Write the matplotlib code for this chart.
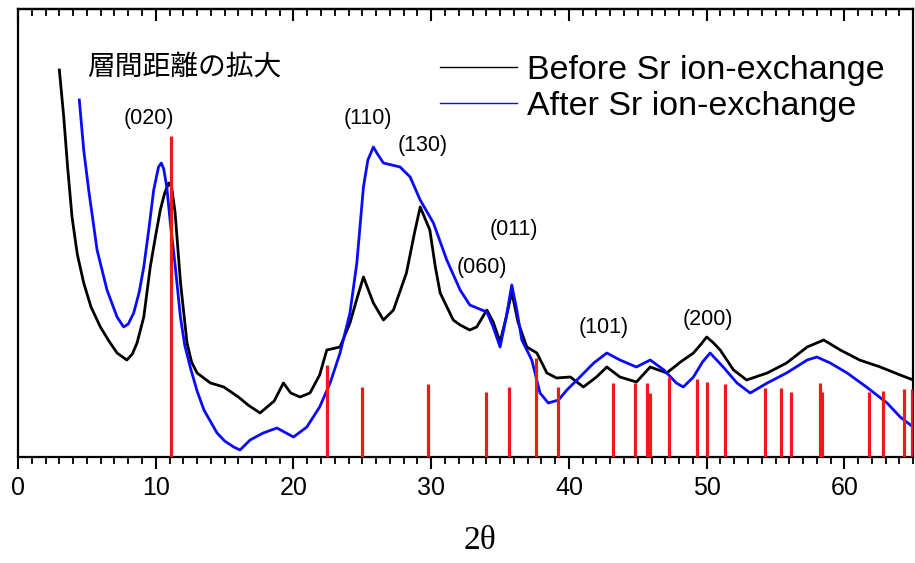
import numpy as np
import matplotlib
matplotlib.use('Agg')
import matplotlib.pyplot as plt
from matplotlib.ticker import MultipleLocator

plt.rcParams['font.family'] = ['Liberation Sans', 'Noto Sans CJK JP']

# XRD pattern, before Sr ion-exchange (black)
before_x = [3.0, 3.32, 3.6, 3.92, 4.3, 4.77, 5.3, 5.98, 6.6, 7.19, 7.9, 8.3, 8.64, 9.13,
            9.6, 10.0, 10.33, 10.65, 10.94, 11.15, 11.4, 11.8, 12.27, 12.6, 13.0, 13.97,
            14.94, 16.0, 16.7, 17.57, 18.6, 19.27, 19.8, 20.48, 21.2, 21.9, 22.42,
            23.38, 24.1, 24.6, 25.08, 25.8, 26.53, 27.26, 28.2, 28.8, 29.2, 29.9,
            30.3, 30.65, 31.6, 32.1, 32.8, 33.3, 34.04, 34.5, 35.0, 35.45, 35.85,
            36.3, 36.94, 37.67, 38.4, 39.1, 40.1, 41.05, 42.0, 42.75, 43.7, 44.9,
            45.9, 47.1, 48.1, 49.04, 49.6, 50.0, 50.5, 50.98, 51.95, 52.9, 54.4,
            55.8, 57.3, 58.5, 59.7, 61.1, 62.6, 64.05, 65.0]
before_y = [387, 340, 290, 240, 203, 174, 150, 130, 116, 104, 97, 103, 114, 140,
            190, 222, 247, 264, 274, 270, 245, 174, 114, 95, 84, 74,
            70, 60, 52, 44, 56, 74, 64, 60, 64, 82, 107,
            110, 134, 158, 180, 154, 137, 147, 184, 225, 250, 227,
            190, 164, 137, 132, 127, 130, 147, 135, 115, 140, 165,
            135, 110, 104, 84, 79, 80, 70, 80, 90, 80, 75,
            90, 84, 95, 104, 113, 120, 114, 107, 87, 77, 84,
            94, 110, 117, 107, 97, 90, 82, 77]

# XRD pattern, after Sr ion-exchange (blue)
after_x = [4.45, 4.77, 5.13, 5.74, 6.46, 7.19, 7.67, 8.0, 8.4, 8.8, 9.13, 9.5, 9.85,
           10.2, 10.4, 10.58, 10.8, 11.06, 11.42, 11.79, 12.1, 12.5, 13.0, 13.5, 14.45,
           15.0, 15.66, 16.12, 16.85, 17.8, 18.8, 20.0, 20.97, 21.9, 22.66, 23.38,
           24.1, 24.6, 25.08, 25.4, 25.8, 26.1, 26.53, 27.74, 28.47, 29.2, 30.16,
           31.13, 32.1, 32.8, 33.5, 34.04, 34.5, 35.0, 35.45, 35.85, 36.2, 36.58,
           37.3, 37.9, 38.5, 39.24, 39.85, 40.8, 41.8, 42.75, 43.7, 44.9, 45.9,
           46.9, 47.8, 48.3, 49.04, 49.7, 50.25, 51.2, 52.2, 53.16, 54.4, 55.8,
           57.3, 58.0, 58.97, 60.2, 61.6, 63.1, 64.05, 64.8, 65.0]
after_y = [357, 307, 267, 207, 167, 140, 130, 133, 144, 165, 190, 228, 267,
           290, 294, 288, 270, 234, 190, 140, 112, 90, 66, 47, 24,
           16, 10, 7, 17, 24, 29, 20, 30, 50, 74, 104,
           144, 194, 270, 297, 310, 303, 294, 290, 280, 257, 234,
           197, 167, 152, 148, 145, 130, 110, 140, 172, 148, 117,
           97, 64, 54, 57, 67, 80, 94, 104, 97, 90, 97,
           87, 74, 70, 80, 95, 104, 90, 74, 64, 74, 84,
           97, 100, 94, 84, 70, 54, 40, 32, 30]

# reference reflections (stick pattern)
ref_pos = [11.1, 22.45, 25.0, 29.75, 34.0, 35.66, 37.6, 39.2, 43.2, 44.8, 45.7, 45.9,
           47.3, 49.3, 50.0, 51.3, 54.2, 55.4, 56.1, 58.2, 58.4, 61.8, 62.8, 64.3, 64.9]
ref_int = [321, 92, 70, 73, 65, 70, 99, 70, 74, 74, 74, 64,
           80, 78, 75, 73, 69, 69, 65, 74, 65, 65, 66, 68, 68]

# Miller indices of the labelled peaks
hkl_labels = ['(020)', '(110)', '(130)', '(060)', '(011)', '(101)', '(200)']
hkl_x = [9.48, 25.4, 29.4, 33.7, 36.0, 42.5, 50.1]
hkl_y = [339, 339, 312, 189, 227, 129, 137]

fig = plt.figure(figsize=(9.15, 5.63), dpi=100)
ax = fig.add_axes([0.0197, 0.1883, 0.9784, 0.7957])

ax.plot(before_x, before_y, color='black', lw=2.0, solid_joinstyle='round',
        label='Before Sr ion-exchange', zorder=2)
ax.plot(after_x, after_y, color='#0a0aff', lw=2.0, solid_joinstyle='round',
        label='After Sr ion-exchange', zorder=3)
ax.vlines(ref_pos, 0, ref_int, colors='#f01818', lw=2.3, zorder=4)

for t, x, y in zip(hkl_labels, hkl_x, hkl_y):
    ax.text(x, y, t, fontsize=15.5, ha='center', va='center')

fig.text(87 / 915, 1 - 67 / 563, '層間距離の拡大', fontsize=20,
         family=['Noto Sans CJK JP'], ha='left', va='center')

leg = ax.legend(loc='upper left', bbox_to_anchor=(0.4715, 0.898), frameon=False,
                fontsize=24.5, handlelength=2.25, handletextpad=0.3, labelspacing=0.16,
                borderpad=0, borderaxespad=0)
for h in leg.get_lines():
    h.set_linewidth(1.0)

ax.set_xlim(0, 65)
ax.set_ylim(0, 448)
ax.set_yticks([])
ax.xaxis.set_major_locator(MultipleLocator(10))
ax.xaxis.set_minor_locator(MultipleLocator(1))
ax.tick_params(axis='x', which='major', direction='out', length=8.6, width=1.5,
               labelsize=18, pad=5)
ax.tick_params(axis='x', which='minor', direction='out', length=5, width=1.3)

top = ax.secondary_xaxis('top')
top.xaxis.set_major_locator(MultipleLocator(10))
top.xaxis.set_minor_locator(MultipleLocator(1))
top.tick_params(which='major', direction='in', length=8.6, width=1.5, labeltop=False)
top.tick_params(which='minor', direction='in', length=5, width=1.3)
top.spines['top'].set_linewidth(1.6)

for s in ax.spines.values():
    s.set_linewidth(1.6)

ax.set_xlabel('2θ', fontsize=24, family=['Liberation Serif'], va='center')
ax.xaxis.set_label_coords(0.516, -0.187)

fig.savefig('out.png', dpi=100)
